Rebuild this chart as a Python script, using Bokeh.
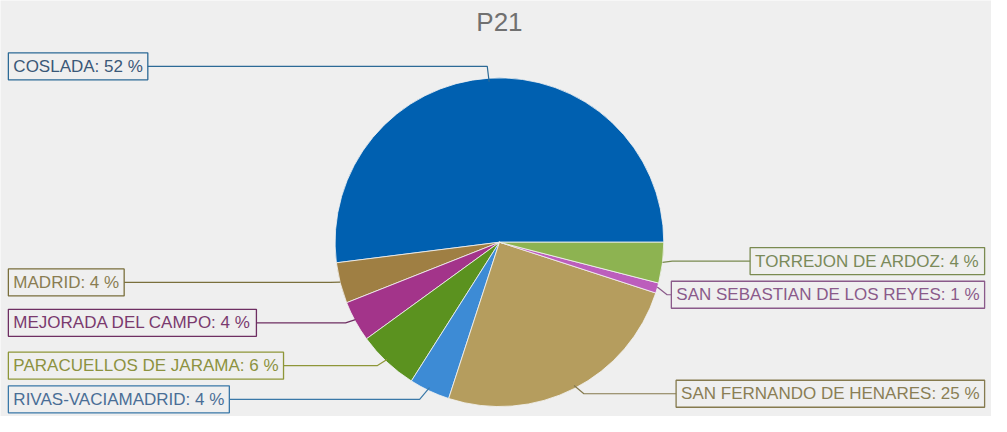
import numpy as np
from bokeh.plotting import figure
from bokeh.models import Range1d, Label
from bokeh.embed import file_html
from bokeh.resources import INLINE

# ---- data ----
title_text = "P21"
names = ["COSLADA", "MADRID", "MEJORADA DEL CAMPO", "PARACUELLOS DE JARAMA",
         "RIVAS-VACIAMADRID", "SAN FERNANDO DE HENARES",
         "SAN SEBASTIAN DE LOS REYES", "TORREJON DE ARDOZ"]
values = [52, 4, 4, 6, 4, 25, 1, 4]

# ---- styles ----
slice_colors = ["#0060b0", "#9f7f43", "#a3348a", "#5b921f",
                "#3d8bd5", "#b59d5e", "#bc5ebc", "#8db351"]
border_colors = ["#2c6a96", "#7a6f3c", "#6e2e62", "#8e9638",
                 "#3a78a8", "#857a4e", "#8a5a8a", "#7a8a50"]
text_colors = ["#3a5878", "#8a7d52", "#7a3a6e", "#8c9240",
               "#4a6e96", "#8a7e55", "#8a5a8a", "#7a8a5a"]
BG = "#efefef"
FONT = "Liberation Sans"

W, H = 1007, 432          # reference coordinate frame
cx, cy, R = 507.0, 251.0, 167.0
label_cy = 248.0
R_label = 180.0
min_gap = 35.0

vals = np.array(values, dtype=float)
frac = vals / vals.sum()
cum = np.concatenate([[0.0], np.cumsum(frac)])
start = cum[:-1] * 2 * np.pi
end = cum[1:] * 2 * np.pi
mid = (start + end) / 2

p = figure(width=991, height=416, x_range=Range1d(0, W), y_range=Range1d(H, 0),
           output_backend="svg", toolbar_location=None, min_border=0,
           x_axis_location=None, y_axis_location=None,
           background_fill_color=BG, border_fill_color=BG, outline_line_color=None)
p.grid.visible = False

p.wedge(x=cx, y=cy, radius=R, start_angle=list(start), end_angle=list(end),
        fill_color=slice_colors, line_color="#f4f4f4", line_width=1, line_alpha=0.8)

# label layout: screen y = cy - r*sin(theta)
ex = cx + R * np.cos(mid)
ey = cy - R * np.sin(mid)
ly = label_cy - R_label * np.sin(mid)
left = np.cos(mid) < 0

for side in (True, False):
    idx = [i for i in range(len(values)) if left[i] == side]
    idx.sort(key=lambda i: ly[i])
    for a, b in zip(idx[:-1], idx[1:]):
        if ly[b] - ly[a] < min_gap:
            ly[b] = ly[a] + min_gap

xs, ys = [], []
for i, name in enumerate(names):
    sgn = -1 if left[i] else 1
    elbow_x = ex[i] + sgn * 10 * min(1.0, 3 * abs(np.cos(mid[i])))
    end_x = 30 if left[i] else 975
    xs.append([ex[i], elbow_x, end_x])
    ys.append([ey[i], ly[i], ly[i]])

p.multi_line(xs=xs, ys=ys, line_color=border_colors, line_width=1.2)

for i, name in enumerate(names):
    txt = f"{name}: {values[i]} %"
    if left[i]:
        lx, align = 8, "left"
    else:
        lx, align = 1000, "right"
    p.add_layout(Label(x=lx, y=ly[i], text=txt, text_align=align, text_baseline="middle",
                       text_font=FONT, text_font_size="17px", text_color=text_colors[i],
                       background_fill_color=BG, border_line_color=border_colors[i],
                       border_line_width=1.3, padding=(5, 4)))

p.add_layout(Label(x=cx, y=22, text=title_text, text_align="center", text_baseline="middle",
                   text_font=FONT, text_font_size="26px", text_color="#707070"))

open("out.html", "w").write(file_html(p, INLINE))
